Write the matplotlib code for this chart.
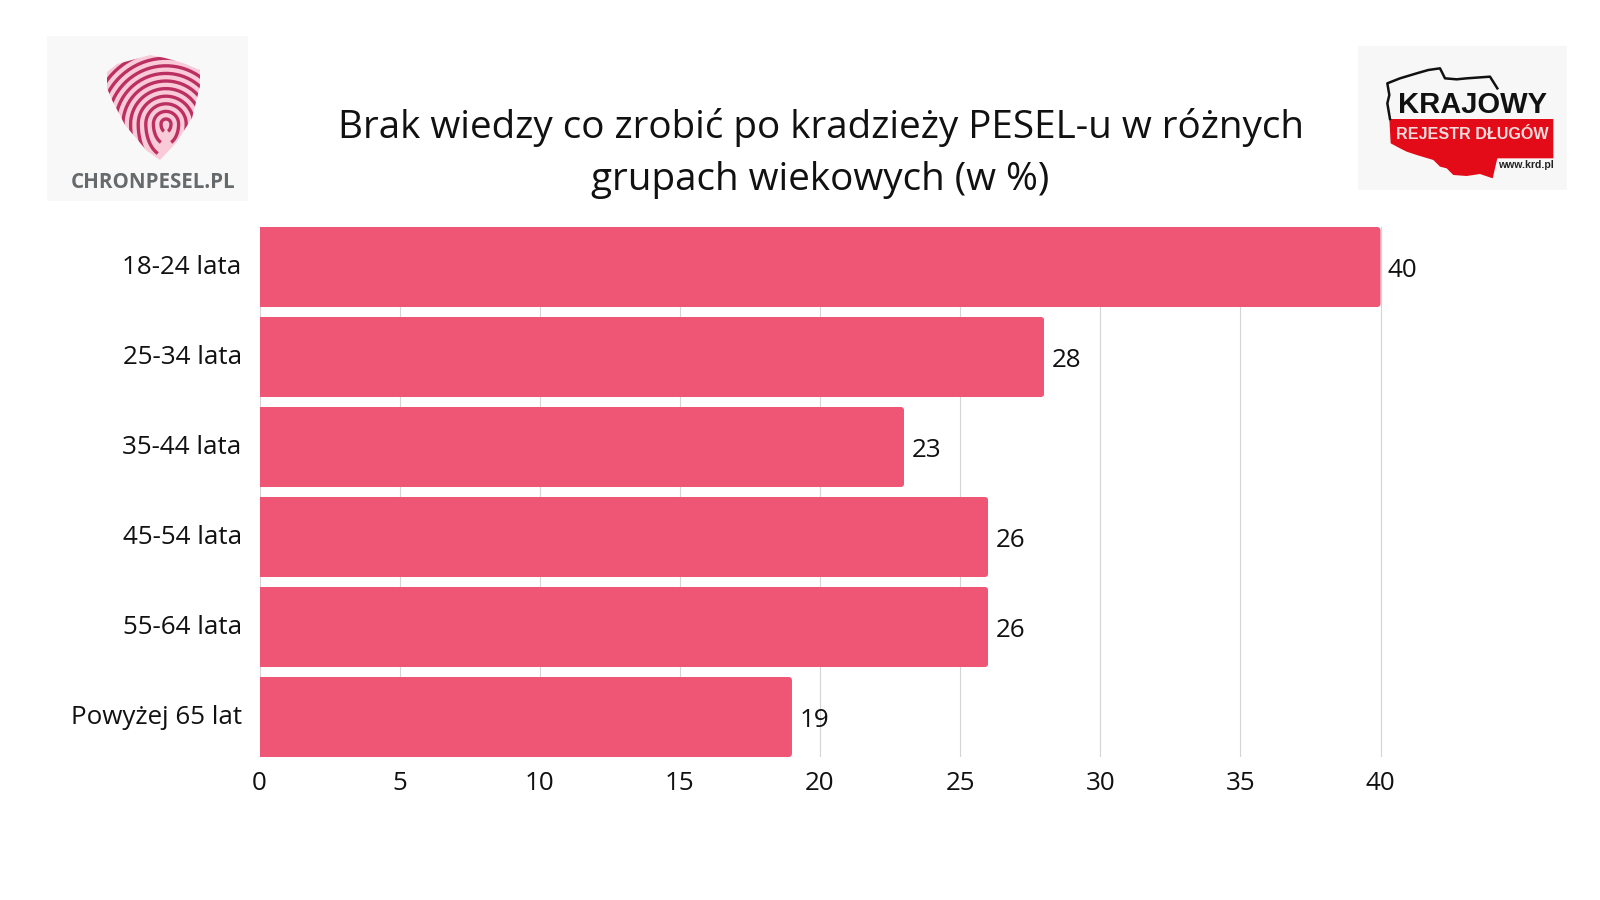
import numpy as np
import matplotlib
matplotlib.use("Agg")
import matplotlib.pyplot as plt
from matplotlib.patches import Polygon, Rectangle, FancyBboxPatch
from matplotlib.transforms import IdentityTransform, ScaledTranslation

plt.rcParams['font.family'] = ['Open Sans', 'DejaVu Sans']

categories = ["18-24 lata", "25-34 lata", "35-44 lata", "45-54 lata", "55-64 lata", "Powyżej 65 lat"]
values = [40, 28, 23, 26, 26, 19]
x_ticks = [0, 5, 10, 15, 20, 25, 30, 35, 40]
title = "Brak wiedzy co zrobić po kradzieży PESEL-u w różnych\ngrupach wiekowych (w %)"

W, H = 1600, 900
BAR = '#EF5675'
INK = '#111111'
fig = plt.figure(figsize=(W / 100, H / 100), dpi=100, facecolor='white')

# axes placed in pixels: x=0 at 259.5, x=40 at 1380; bars span 227..757
x0, x40 = 259.5, 1380.5
xmax = 42.5
ax_w = (x40 - x0) / 40 * xmax
ax = fig.add_axes([x0 / W, 1 - 757 / H, ax_w / W, 530 / H])
y = np.arange(len(categories))
h = 80 / 90
bars = ax.barh(y, values, height=h, color=BAR, zorder=3, linewidth=0)
ax.set_xlim(0, xmax)
ax.set_ylim(len(categories) - 1 + h / 2, -h / 2)
ax.set_xticks(x_ticks)
ax.set_yticks(y, categories)
ax.tick_params(axis='both', length=0, labelsize=18.7, colors=INK)
ax.tick_params(axis='x', pad=10.2)
ax.tick_params(axis='y', pad=12.8)
for s in ax.spines.values():
    s.set_visible(False)
ax.set_axisbelow(True)
ax.grid(axis='x', color='#d4d4d4', linewidth=0.8, zorder=0)
ax.grid(axis='y', visible=False)
shift = ScaledTranslation(0, 3 / 100, fig.dpi_scale_trans)
for lab in ax.get_yticklabels():
    lab.set_transform(lab.get_transform() + shift)
anns = ax.bar_label(bars, labels=[str(v) for v in values], padding=5.2, fontsize=18.7, color=INK, zorder=4)
for a in anns:
    a.xyann = (5.2, -2.4)

# rounded right-hand bar corners
fig.canvas.draw()
for b in bars:
    e = b.get_window_extent()
    clip = FancyBboxPatch((e.x0 - 10, e.y0), e.width + 10, e.height,
                          boxstyle="round,pad=0,rounding_size=3.5", transform=IdentityTransform())
    b.set_clip_path(clip)

# overlay in pixel coordinates for title and logos
ov = fig.add_axes([0, 0, 1, 1], facecolor='none')
ov.set_xlim(0, W)
ov.set_ylim(H, 0)
ov.axis('off')
ov.text(820.5, 153.5, title, ha='center', va='center', fontsize=27.8, color=INK, linespacing=1.47)

# --- left logo ---
ov.add_patch(Rectangle((47, 36), 201, 165, color='#f8f8f8', lw=0))
shield = Polygon([(107, 72), (117, 64), (132, 60), (150, 55), (165, 58), (183, 63), (200, 70), (200, 86),
                  (192, 118), (176, 143), (160, 160), (147, 151), (125, 125), (112, 100), (107, 88)],
                 closed=True, facecolor='#f9cbd8', lw=0)
ov.add_patch(shield)
cx, cy = 166, 124
t = np.linspace(np.pi, 2 * np.pi, 40)
s = np.linspace(0, 1.15, 20)
for r in np.arange(5, 100, 7.6):
    xs = np.r_[(cx - r * np.cos(s))[::-1], cx + r * np.cos(t), cx + r * np.cos(s)]
    ys = np.r_[(cy + 1.6 * r * np.sin(s))[::-1], cy + r * np.sin(t), cy + 1.6 * r * np.sin(s)]
    ln, = ov.plot(xs, ys, color='#bb3060', lw=2.4, solid_capstyle='butt')
    ln.set_clip_path(shield)
ov.text(153, 182.5, "CHRONPESEL.PL", ha='center', va='center', fontsize=14.8, fontweight='bold', color='#666a6c')

# --- right logo ---
ov.add_patch(Rectangle((1358, 46), 209, 144, color='#f7f7f7', lw=0))
def m(p):
    return [(1300 + a / 3, 20 + b / 3) for a, b in p]
red = m([(268, 297), (760, 297), (760, 415), (592, 415), (578, 475), (540, 462), (500, 468), (460, 465),
         (440, 445), (420, 440), (400, 420), (350, 405), (320, 395), (300, 385), (272, 370)])
ov.add_patch(Polygon(red, closed=True, facecolor='#e30b17', lw=0))
outline = m([(270, 297), (262, 250), (268, 225), (262, 190), (300, 175), (350, 160), (385, 150), (420, 145),
             (435, 175), (470, 178), (500, 175), (570, 170), (592, 205)])
ov.plot(*zip(*outline), color='#111111', lw=1.8)
ov.text(1300 + 518 / 3, 20 + 255 / 3, "KRAJOWY", ha='center', va='center', fontsize=21, fontweight='bold',
        family='Liberation Sans', color='#111111')
ov.text(1300 + 518 / 3, 20 + 343 / 3, "REJESTR DŁUGÓW", ha='center', va='center', fontsize=11.6, fontweight='bold',
        family='Liberation Sans', color='#f6dcdc')
ov.text(1300 + 678 / 3, 20 + 436 / 3, "www.krd.pl", ha='center', va='center', fontsize=7.6, fontweight='bold',
        family='Liberation Sans', color='#222222')

fig.savefig("out.png", dpi=100, facecolor='white')
